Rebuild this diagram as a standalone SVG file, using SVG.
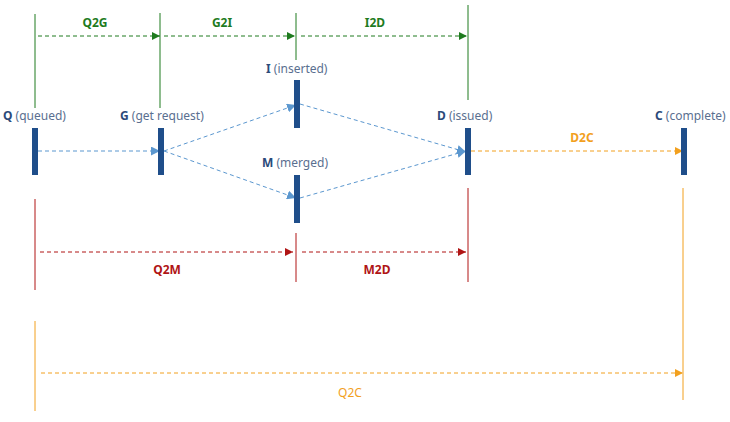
<svg xmlns="http://www.w3.org/2000/svg" width="730" height="422" viewBox="0 0 730 422">
<style>
text{font-family:"Noto Sans","DejaVu Sans",sans-serif;font-size:12px}
.lbl{fill:#5a6f90}
.lbl .k{fill:#2b4a7a;font-weight:bold}
.bar{fill:#1f4e8a}
.g{stroke:#1e7b1e;stroke-width:1;fill:none}
.r{stroke:#b01515;stroke-width:1;fill:none}
.o{stroke:#f2a01e;stroke-width:1;fill:none}
.b{stroke:#5b97cf;stroke-width:1;fill:none}
.d{stroke-dasharray:4,3}
.tg{fill:#1e7b1e;font-weight:bold;text-anchor:middle}
.tr{fill:#b01515;font-weight:bold;text-anchor:middle}
.to{fill:#f2a01e;font-weight:bold;text-anchor:middle}
</style>
<defs>
<marker id="ag" viewBox="0 0 10 10" refX="10" refY="5" markerWidth="8" markerHeight="8" markerUnits="userSpaceOnUse" orient="auto"><path d="M0,0L10,5L0,10z" fill="#1e7b1e"/></marker>
<marker id="ar" viewBox="0 0 10 10" refX="10" refY="5" markerWidth="8" markerHeight="8" markerUnits="userSpaceOnUse" orient="auto"><path d="M0,0L10,5L0,10z" fill="#b01515"/></marker>
<marker id="ao" viewBox="0 0 10 10" refX="10" refY="5" markerWidth="8" markerHeight="8" markerUnits="userSpaceOnUse" orient="auto"><path d="M0,0L10,5L0,10z" fill="#f2a01e"/></marker>
<marker id="ab" viewBox="0 0 10 10" refX="10" refY="5" markerWidth="9" markerHeight="9" markerUnits="userSpaceOnUse" orient="auto"><path d="M0,0L10,5L0,10z" fill="#5b97cf"/></marker>
</defs>
<rect width="730" height="422" fill="#fff"/>
<g id="connectors">
<line class="g" x1="35" y1="14" x2="35" y2="108"/>
<line class="g" x1="160" y1="13" x2="160" y2="108"/>
<line class="g" x1="296" y1="13" x2="296" y2="60"/>
<line class="g" x1="468" y1="5" x2="468" y2="100"/>
<line class="g d" x1="38" y1="36" x2="160" y2="36" marker-end="url(#ag)"/>
<line class="g d" x1="164" y1="36" x2="295" y2="36" marker-end="url(#ag)"/>
<line class="g d" x1="301" y1="36" x2="467" y2="36" marker-end="url(#ag)"/>
<line class="b d" x1="38" y1="151" x2="160" y2="151" marker-end="url(#ab)"/>
<line class="b d" x1="164" y1="151" x2="296" y2="105" marker-end="url(#ab)"/>
<line class="b d" x1="164" y1="151" x2="296" y2="198" marker-end="url(#ab)"/>
<line class="b d" x1="300" y1="104" x2="466" y2="152" marker-end="url(#ab)"/>
<line class="b d" x1="300" y1="198" x2="466" y2="151" marker-end="url(#ab)"/>
<line class="o d" x1="471" y1="151" x2="683" y2="151" marker-end="url(#ao)"/>
<line class="r" x1="35" y1="199" x2="35" y2="290"/>
<line class="r" x1="296" y1="233" x2="296" y2="282"/>
<line class="r" x1="468" y1="188" x2="468" y2="282"/>
<line class="r d" x1="40" y1="252" x2="293" y2="252" marker-end="url(#ar)"/>
<line class="r d" x1="302" y1="252" x2="466" y2="252" marker-end="url(#ar)"/>
<line class="o" x1="35" y1="321" x2="35" y2="411"/>
<line class="o" x1="683" y1="188" x2="683" y2="400"/>
<line class="o d" x1="41" y1="373" x2="683" y2="373" marker-end="url(#ao)"/>
</g>
<g id="labels">
<text class="tg" x="95" y="27">Q2G</text>
<text class="tg" x="222" y="27">G2I</text>
<text class="tg" x="375" y="27">I2D</text>
<text class="to" x="582" y="142">D2C</text>
<text class="tr" x="167" y="274">Q2M</text>
<text class="tr" x="377" y="274">M2D</text>
<text class="to" x="250" y="397" style="font-weight:normal;text-anchor:middle" dx="100">Q2C</text>
</g>
<g id="node-Q"><rect class="bar" x="32" y="128" width="6" height="47"/><text class="lbl" x="3" y="120"><tspan class="k">Q</tspan> (queued)</text></g>
<g id="node-G"><rect class="bar" x="158" y="128" width="6" height="47"/><text class="lbl" x="120" y="120"><tspan class="k">G</tspan> (get request)</text></g>
<g id="node-I"><rect class="bar" x="294" y="80" width="6" height="48"/><text class="lbl" x="266" y="73"><tspan class="k">I</tspan> (inserted)</text></g>
<g id="node-M"><rect class="bar" x="294" y="175" width="6" height="48"/><text class="lbl" x="262" y="167"><tspan class="k">M</tspan> (merged)</text></g>
<g id="node-D"><rect class="bar" x="465" y="128" width="6" height="47"/><text class="lbl" x="437" y="120"><tspan class="k">D</tspan> (issued)</text></g>
<g id="node-C"><rect class="bar" x="681" y="128" width="6" height="47"/><text class="lbl" x="655" y="120"><tspan class="k">C</tspan> (complete)</text></g>
</svg>
